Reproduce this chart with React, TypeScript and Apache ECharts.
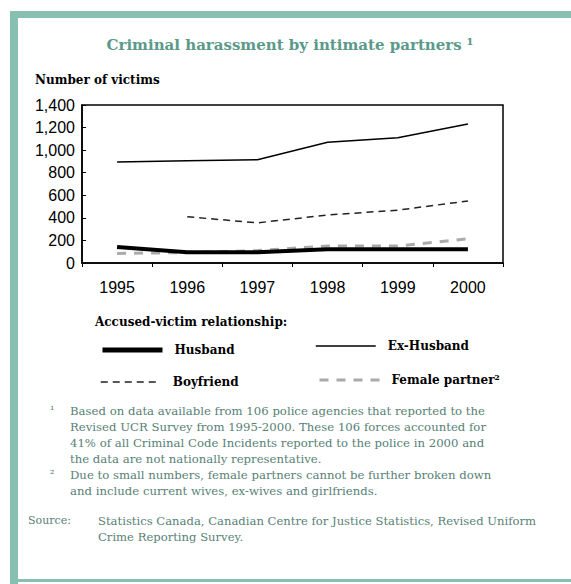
import React, { useEffect, useRef } from "react";
import * as echarts from "echarts";

const years = ["1995", "1996", "1997", "1998", "1999", "2000"];
const husband = [142, 95, 95, 121, 121, 121];
const exHusband = [895, 905, 915, 1070, 1110, 1232];
const boyfriend = [null, 410, 356, 425, 468, 550];
const femalePartner = [85, 92, 110, 150, 150, 215];
const yMin = 0;
const yMax = 1400;
const yStep = 200;

const titleText = "Criminal harassment by intimate partners \u00b9";
const yAxisTitle = "Number of victims";
const legendTitle = "Accused-victim relationship:";
const note1 = [
  "Based on data available from 106 police agencies that reported to the",
  "Revised UCR Survey from 1995-2000. These 106 forces accounted for",
  "41% of all Criminal Code Incidents reported to the police in 2000 and",
  "the data are not nationally representative.",
];
const note2 = [
  "Due to small numbers, female partners cannot be further broken down",
  "and include current wives, ex-wives and girlfriends.",
];
const sourceLines = [
  "Statistics Canada, Canadian Centre for Justice Statistics, Revised Uniform",
  "Crime Reporting Survey.",
];

const TEAL = "#87c0b1";
const NOTE = "#587f76";
const SERIF = "'DejaVu Serif', 'Liberation Serif', serif";
const SANS = "'Liberation Sans', Arial, sans-serif";

export default function App() {
  const ref = useRef<HTMLDivElement>(null);
  useEffect(() => {
    if (!ref.current) return;
    const chart = echarts.init(ref.current, null, { renderer: "svg" });
    const legendText = { fontFamily: SERIF, fontSize: 12, fontWeight: "bold", color: "#000", padding: [0, 0, 0, 7] };
    const mkLegend = (name: string, left: number, top: number, width: number) => ({
      data: [name],
      left,
      top,
      itemWidth: 60,
      itemHeight: 10,
      padding: 0,
      selectedMode: false,
      itemStyle: { opacity: 0 },
      lineStyle: { width },
      textStyle: legendText,
      formatter: (n: string) => (n === "Female partner" ? n + "\u00b2" : n),
    });
    const noteLine = (txt: string, x: number, y: number) => ({
      type: "text",
      x,
      y,
      style: { text: txt, font: `11.7px ${SERIF}`, fill: NOTE },
    });
    const graphics: any[] = [
      { type: "rect", shape: { x: 10, y: 11, width: 561, height: 7 }, style: { fill: TEAL } },
      { type: "rect", shape: { x: 10, y: 11, width: 8, height: 573 }, style: { fill: TEAL } },
      { type: "rect", shape: { x: 10, y: 579, width: 561, height: 3 }, style: { fill: TEAL } },
      {
        type: "text",
        x: 290,
        y: 45,
        style: { text: titleText, font: `bold 15px ${SERIF}`, fill: "#5a9a8a", textAlign: "center", textVerticalAlign: "middle" },
      },
      {
        type: "text",
        x: 35,
        y: 80,
        style: { text: yAxisTitle, font: `bold 12px ${SERIF}`, fill: "#000", textVerticalAlign: "middle" },
      },
      {
        type: "text",
        x: 95,
        y: 322,
        style: { text: legendTitle, font: `bold 12px ${SERIF}`, fill: "#000", textVerticalAlign: "middle" },
      },
      { type: "text", x: 50, y: 405, style: { text: "\u00b9", font: `11px ${SERIF}`, fill: NOTE } },
      { type: "text", x: 50, y: 469, style: { text: "\u00b2", font: `11px ${SERIF}`, fill: NOTE } },
      { type: "text", x: 28, y: 515, style: { text: "Source:", font: `11px ${SERIF}`, fill: NOTE } },
    ];
    note1.forEach((t, i) => graphics.push(noteLine(t, 70, 405 + i * 16)));
    note2.forEach((t, i) => graphics.push(noteLine(t, 70, 469 + i * 16)));
    sourceLines.forEach((t, i) =>
      graphics.push({ type: "text", x: 98, y: 515 + i * 16, style: { text: t, font: `11.6px ${SERIF}`, fill: NOTE } })
    );

    chart.setOption({
      animation: false,
      backgroundColor: "#fff",
      grid: { left: 82, right: 68, top: 105, bottom: 321, show: true, borderColor: "#000", borderWidth: 1.5, backgroundColor: "transparent" },
      xAxis: {
        type: "category",
        data: years,
        boundaryGap: true,
        axisLine: { lineStyle: { color: "#000", width: 1.5 } },
        axisTick: { show: true, length: 4, lineStyle: { color: "#000" } },
        axisLabel: { fontFamily: SANS, fontSize: 16, color: "#000", margin: 16 },
      },
      yAxis: {
        type: "value",
        min: yMin,
        max: yMax,
        interval: yStep,
        splitLine: { show: false },
        axisLine: { show: true, lineStyle: { color: "#000", width: 1.5 } },
        axisTick: { show: true, inside: true, length: 4, lineStyle: { color: "#000" } },
        axisLabel: {
          fontFamily: SANS,
          fontSize: 16,
          color: "#000",
          margin: 7,
          formatter: (v: number) => v.toLocaleString("en-US"),
        },
      },
      legend: [
        mkLegend("Husband", 100, 344, 5),
        mkLegend("Ex-Husband", 315, 340, 1.5),
        mkLegend("Boyfriend", 100, 376, 1.5),
        mkLegend("Female partner", 318, 374, 3),
      ],
      graphic: graphics,
      series: [
        {
          name: "Husband",
          type: "line",
          data: husband,
          symbol: "none",
          lineStyle: { color: "#000", width: 4 },
          itemStyle: { color: "#000" },
          z: 4,
        },
        {
          name: "Ex-Husband",
          type: "line",
          data: exHusband,
          symbol: "none",
          lineStyle: { color: "#000", width: 1.5 },
          itemStyle: { color: "#000" },
        },
        {
          name: "Boyfriend",
          type: "line",
          data: boyfriend,
          symbol: "none",
          lineStyle: { color: "#222", width: 1.5, type: [7, 5] },
          itemStyle: { color: "#222" },
        },
        {
          name: "Female partner",
          type: "line",
          data: femalePartner,
          symbol: "none",
          lineStyle: { color: "#aaa", width: 3, type: [9, 8] },
          itemStyle: { color: "#aaa" },
          z: 3,
        },
      ],
    });
    return () => chart.dispose();
  }, []);
  return <div ref={ref} style={{ position: "fixed", left: 0, top: 0, width: 571, height: 584 }} />;
}
